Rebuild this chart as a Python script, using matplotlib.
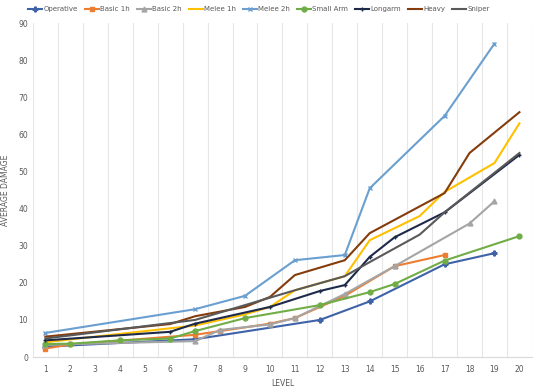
import numpy as np
import matplotlib
matplotlib.use('Agg')
import matplotlib.pyplot as plt

plt.rcParams['font.family'] = 'DejaVu Sans'

# level -> average damage
operative_x = [1, 7, 12, 14, 17, 19]
operative_y = [2.8, 4.8, 10, 15, 25, 28]
basic1h_x = [1, 2, 7, 8, 10, 11, 13, 15, 17]
basic1h_y = [2.3, 3.4, 6, 7, 9, 10.5, 16.5, 24.5, 27.5]
basic2h_x = [1, 7, 8, 10, 11, 13, 15, 18, 19]
basic2h_y = [3.3, 4.3, 7.3, 8.8, 10.5, 17, 24.5, 36, 42]
melee1h_x = [1, 7, 9, 10, 11, 13, 14, 16, 17, 19, 20]
melee1h_y = [4, 8.5, 11.5, 13.5, 18, 21.8, 31.5, 38, 44.5, 52.3, 63]
melee2h_x = [1, 7, 9, 11, 13, 14, 17, 19]
melee2h_y = [6.5, 12.9, 16.5, 26.1, 27.5, 45.5, 65, 84.5]
smallarm_x = [1, 2, 4, 6, 7, 9, 12, 14, 15, 17, 20]
smallarm_y = [3.5, 3.6, 4.5, 5, 7, 10.5, 14, 17.5, 19.7, 26, 32.6]
longarm_x = [1, 6, 7, 10, 12, 13, 14, 15, 17, 20]
longarm_y = [4.5, 6.8, 9, 13.5, 17.8, 19.4, 27, 32.3, 39, 54.5]
heavy_x = [1, 6, 7, 9, 10, 11, 13, 14, 17, 18, 20]
heavy_y = [5.5, 8.9, 11, 13.5, 16.2, 22.1, 26.1, 33.4, 44.2, 55, 66]
sniper_x = [1, 7, 11, 13, 14, 16, 17, 20]
sniper_y = [5, 10, 18, 21.8, 25.6, 33, 39, 55]

series = [
    ('Operative', operative_x, operative_y, '#3F63A8', 'P'),
    ('Basic 1h', basic1h_x, basic1h_y, '#ED7D31', 's'),
    ('Basic 2h', basic2h_x, basic2h_y, '#A5A5A5', '^'),
    ('Melee 1h', melee1h_x, melee1h_y, '#FFC000', None),
    ('Melee 2h', melee2h_x, melee2h_y, '#6A9FD0', 'x'),
    ('Small Arm', smallarm_x, smallarm_y, '#70AD47', 'o'),
    ('Longarm', longarm_x, longarm_y, '#1E2A4A', '+'),
    ('Heavy', heavy_x, heavy_y, '#843C0C', None),
    ('Sniper', sniper_x, sniper_y, '#595959', None),
]

fig = plt.figure(figsize=(5.4, 3.86), dpi=100)
ax = fig.add_axes([0.061, 0.075, 0.924, 0.865])

for name, xs, ys, c, m in series:
    ax.plot(xs, ys, color=c, lw=1.5, marker=m, ms=3.5, mew=1, label=name)

ax.set_xlim(0.5, 20.5)
ax.set_ylim(0, 90)
ax.set_xticks(range(1, 21))
ax.set_xticks(np.arange(0.5, 21, 1), minor=True)
ax.set_yticks(range(0, 91, 10))
ax.grid(which='minor', axis='x', color='#E6E6E6', lw=0.8)
ax.tick_params(which='both', length=0, labelsize=5.5, colors='#595959')
ax.tick_params(axis='x', pad=6)
for s in ['top', 'right', 'left']:
    ax.spines[s].set_visible(False)
ax.spines['bottom'].set_color('#D9D9D9')

ax.set_xlabel('LEVEL', fontsize=5.5, color='#595959', labelpad=3)
ax.set_ylabel('AVERAGE DAMAGE', fontsize=5.5, color='#595959', labelpad=6)

fig.legend(loc='upper center', bbox_to_anchor=(0.48, 1.0), ncol=9, frameon=False,
           fontsize=5, handlelength=2.0, columnspacing=1.0, handletextpad=0.2,
           labelcolor='#595959')

fig.savefig('out.png', dpi=100)
